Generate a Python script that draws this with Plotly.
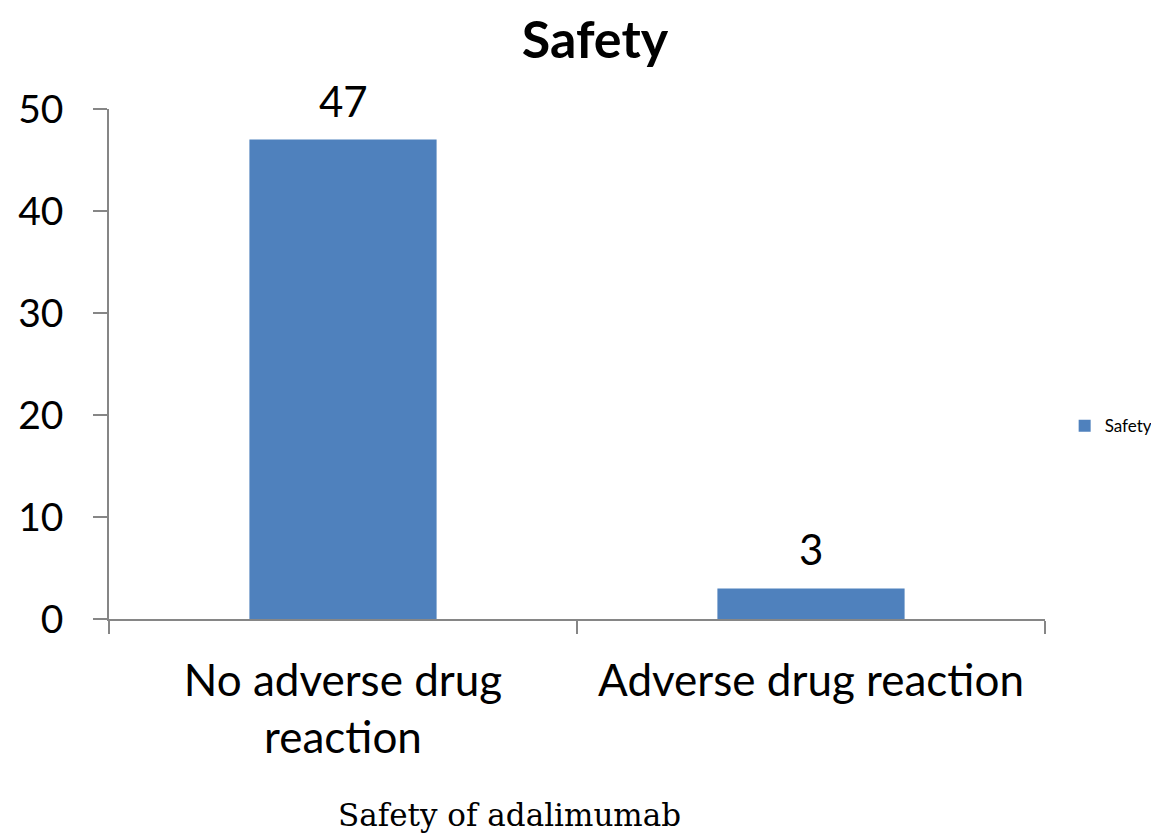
import plotly.graph_objects as go

categories = ["No adverse drug<br>reaction", "Adverse drug reaction"]
values = [47, 3]
series_name = "Safety"
title_text = "Safety"
caption_text = "Safety of adalimumab"
y_ticks = [0, 10, 20, 30, 40, 50]

bar_color = "#4F81BD"
axis_color = "#868686"
font_family = "Lato, Open Sans, sans-serif"

fig = go.Figure()
fig.add_trace(go.Bar(
    x=categories,
    y=values,
    name=series_name,
    marker=dict(color=bar_color, line=dict(width=0)),
    showlegend=True,
))

for c, v in zip(categories, values):
    fig.add_annotation(
        x=c, y=v, xref="x", yref="y",
        text=str(v), showarrow=False,
        yanchor="bottom", yshift=12,
        font=dict(size=42, color="#000000", family=font_family),
    )

fig.update_layout(
    width=1151,
    height=825,
    paper_bgcolor="white",
    plot_bgcolor="white",
    margin=dict(l=101, r=114, t=101, b=214, autoexpand=False),
    bargap=0.6,
    title=dict(
        text="<b>" + title_text + "</b>",
        x=0.51, xanchor="center",
        y=0.962, yanchor="middle",
        font=dict(size=52, color="#000000", family=font_family),
    ),
    legend=dict(
        x=1.021, y=0.378, xanchor="left", yanchor="middle",
        font=dict(size=17, color="#000000", family=font_family),
        itemwidth=30,
        bgcolor="rgba(0,0,0,0)",
    ),
    font=dict(family=font_family, color="#000000"),
)

fig.update_xaxes(
    type="category",
    tickson="boundaries",
    ticks="outside",
    ticklen=13,
    tickcolor=axis_color,
    tickwidth=1.5,
    showline=True,
    linecolor=axis_color,
    linewidth=1.5,
    showgrid=False,
    automargin=False,
    ticklabelstandoff=22,
    tickfont=dict(size=44, color="#000000", family=font_family),
)

fig.update_yaxes(
    range=[0, 50],
    tickvals=y_ticks,
    ticks="outside",
    ticklen=14,
    tickcolor=axis_color,
    tickwidth=1.5,
    showline=True,
    linecolor=axis_color,
    linewidth=1.5,
    showgrid=False,
    zeroline=False,
    automargin=False,
    ticklabelstandoff=22,
    tickfont=dict(size=39, color="#000000", family=font_family),
)

fig.add_annotation(
    text=caption_text,
    xref="paper", yref="paper",
    x=0.428, y=-0.384,
    xanchor="center", yanchor="middle",
    showarrow=False,
    font=dict(size=31, color="#000000", family="DejaVu Serif, serif"),
)

fig.write_html("out.html")
